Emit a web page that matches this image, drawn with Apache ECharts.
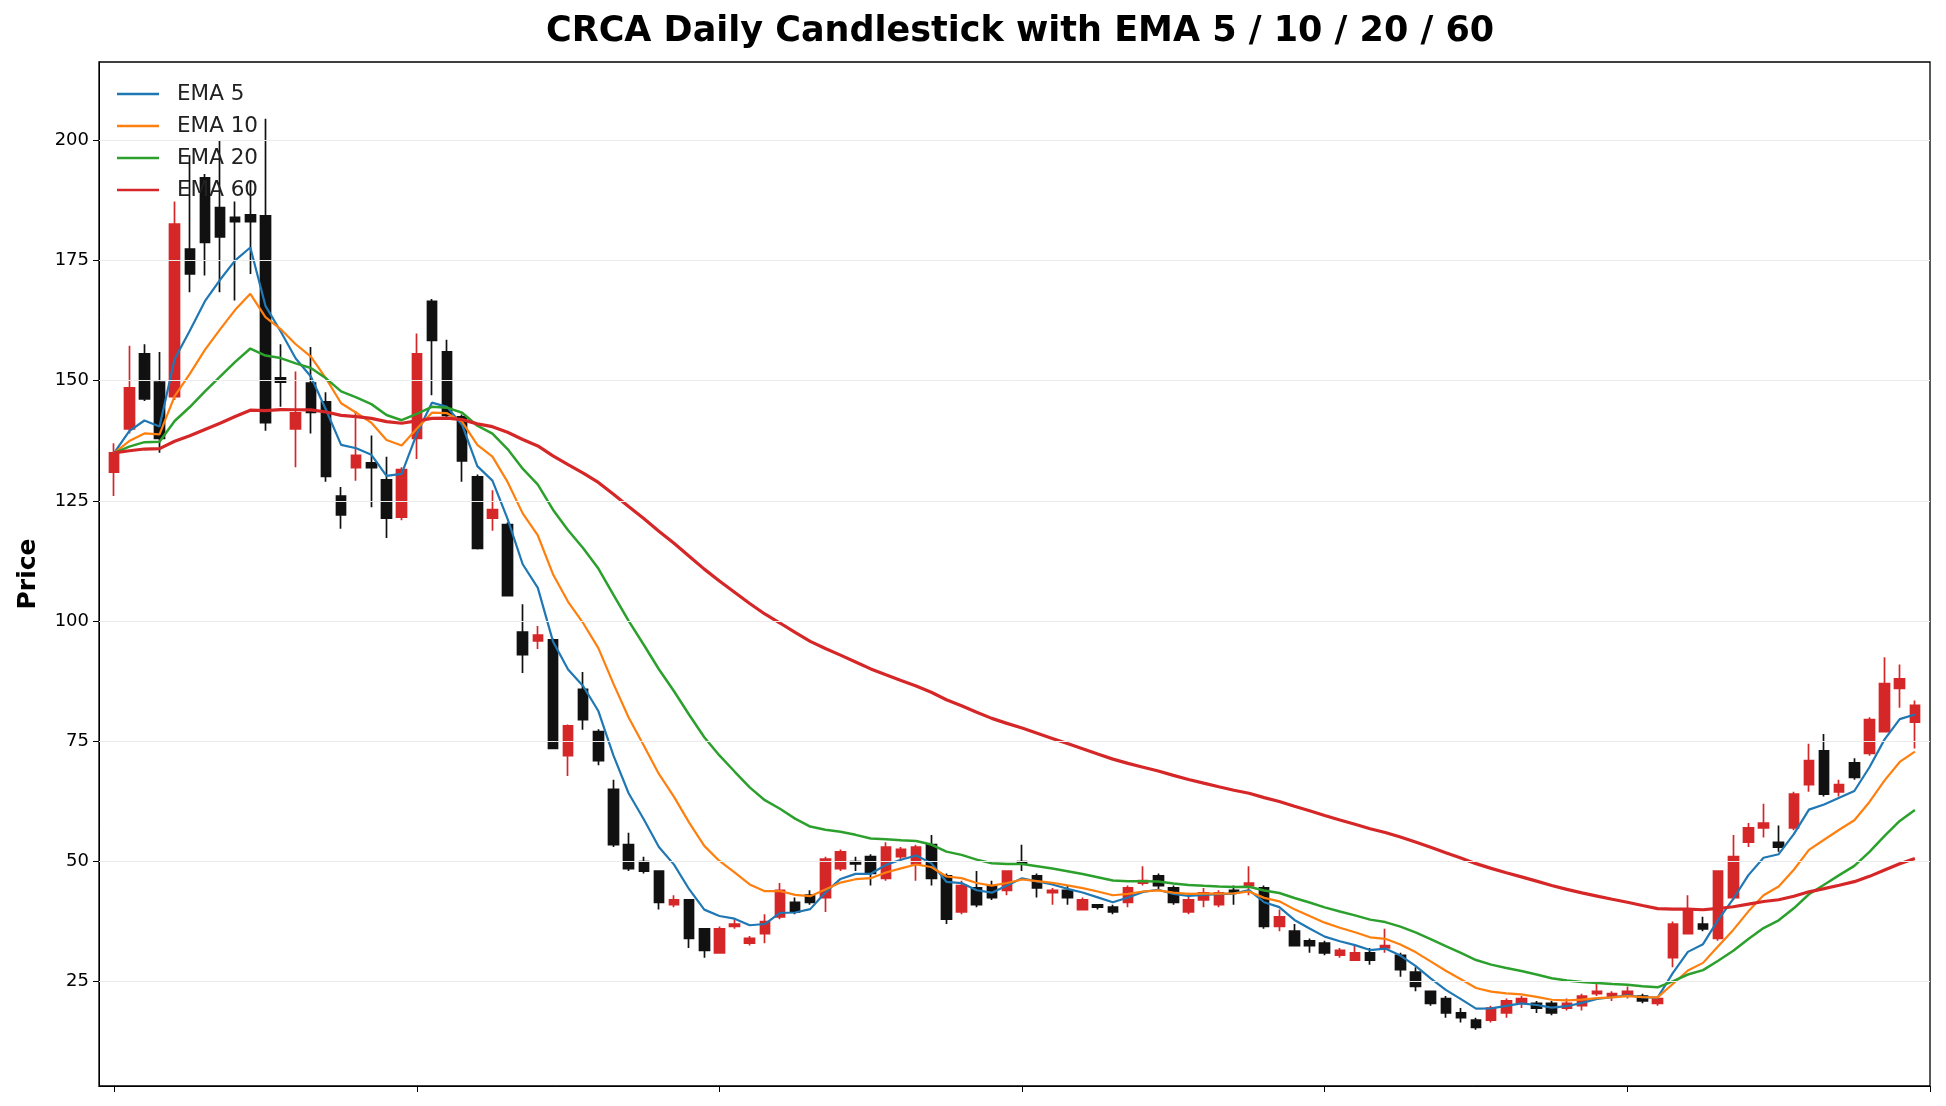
<!DOCTYPE html>
<html><head><meta charset="utf-8">
<script src="https://cdn.jsdelivr.net/npm/echarts@6/dist/echarts.min.js"></script>
<style>html,body{margin:0;padding:0;background:#fff}#c{width:1946px;height:1106px}</style>
</head><body><div id="c"></div>
<script>
// [open, close, low, high] per day
const opens = [131,140,155.6,149.7,146.7,177.4,192.2,186,184,184.5,184.3,150.6,140,149.5,145.6,126,131.9,132.9,129.4,121.6,
138,166.5,156,142.5,130,121.4,120.1,97.7,95.9,96.1,72,85.8,77,65,53.5,50,48,41,42,36,
31,36.5,33,35,38.5,41.5,43,42.5,48.5,50,51,46.5,51,49.5,53.5,47,39.5,44.5,45,44,
50,47,43.5,44,40,41,40.5,41.5,45.5,47,44.5,39.5,42,41,44,45,44.5,36.5,35.5,33.5,
33,30.5,29.5,31,32,30.5,27,23,21.5,18.5,17,17,18.5,20.5,20.5,20.5,19.5,20,22.5,22,
22,22,20.5,30,35,37,34,42.5,54,57,54,57,66,73,64.5,70.5,72.5,77,86,79];
const closes = [135,148.5,146.2,138,182.6,172.2,178.8,179.9,183.1,183.1,141.3,149.7,143.3,143.4,130.1,122.1,134.5,131.9,121.4,131.5,
155.6,158.4,142.8,133.3,115.1,123.2,105.3,93,97.1,73.5,78.2,79.5,71,53.5,48.5,48,41.5,42,34,31.5,
36,37,34,37.5,44,39.5,41.5,50.5,52,49.5,47.5,53,52.5,53,46.5,38,45,41,42.5,48,
49.5,44.5,44,42.5,42,40.5,39.5,44.5,46,45,41.5,42,43.5,43.5,43.5,45.5,36.5,38.5,32.5,32.5,
31,31.5,31,29.5,32.5,27.5,24,20.5,18.5,17.5,15.5,19.5,21,21.5,19.5,18.5,20.5,22,23,22.5,
23,21,21.5,37,40,36,48,51,57,58,53,64,71,64,66,67.5,79.5,87,88,82.5];
const lows = [126,139,145.8,135,146,168.4,171.9,168.4,166.7,172.2,139.6,144.6,132,139,129,119.2,129.2,123.7,117.3,121,
133.7,147,142.4,129,114.9,118.8,105.2,89.2,94.2,73.5,67.8,77.4,70,53,48,47.5,40,40.5,32,30,
31,36,32.5,33,38,39,41,39.5,48,48,45,46,50,46,45,37,39,40.5,42,43,
48,42.5,41,41,40,40,39,40.5,45,44,41,39,40.5,40.5,41,43,36,35.5,32.5,31,
30.5,30,29.5,28.5,31,26,23,20,17.5,16.5,15,16.5,17.5,19.5,18.5,18,19,19,22,21,
21.5,20.5,20,28,35,35.5,33.5,42,53,55,52,56.5,64.5,63.5,63.5,67,72,77,82,73.5];
const highs = [137,157.3,157.6,156,187.3,196.9,193,200,187.3,191.7,204.5,157.6,151.9,157,147.6,127.9,143.7,138.6,134.2,132,
159.8,167,158.5,143,130.5,127.2,120.5,103.5,99,96.5,78.5,89.4,77.5,67,56,51,48,43,42,36,
36.5,38,34.5,39,45.5,42.5,44,51,52.5,51,51.5,54,53,53.5,55.5,47.5,46,48,46,48,
53.5,47.5,44.5,45,42.5,41,41,45,49,47.5,45,43.5,44.5,44,45,49,45,40,37,34,
33.5,32,32.5,32,36,31,28,23,22,19.5,17.5,20,21.5,22,21,21,21.5,22.5,24.5,23,
24,22.5,22,37.5,43,38.5,48,55.5,58,62,57.5,64.5,74.5,76.5,67,71.5,80,92.5,91,83.5];
const xTickEvery = 20;
const yTicks = [25,50,75,100,125,150,175,200];
const emaSpans = [5,10,20,60];

const cats = [''].concat(closes.map((_, i) => String(i))).concat(['']);
const candles = ['-'].concat(closes.map((c, i) => [opens[i], c, lows[i], highs[i]])).concat(['-']);
function ema(span){
  const a = 2/(span+1); const out=[]; let e=closes[0];
  closes.forEach((c,i)=>{ e = i===0 ? c : a*c+(1-a)*e; out.push(+e.toFixed(3)); });
  return ['-'].concat(out).concat(['-']);
}
const colors = ['#1f77b4','#ff7f0e','#2ca02c','#d62728'];
const widths = [2.2,2.2,2.5,3.2];
const series = [{
  type:'candlestick', data:candles, barWidth:10,
  itemStyle:{color:'#d62728',color0:'#111111',borderColor:'#d62728',borderColor0:'#111111',borderWidth:1.7}
}];
emaSpans.forEach((s,k)=>series.push({
  name:'EMA '+s, type:'line', data:ema(s), showSymbol:false, symbol:'none', z:3,
  lineStyle:{color:colors[k], width:widths[k]}, itemStyle:{color:colors[k]}
}));
series.push({type:'line', data:[], z:1, markLine:{silent:true, symbol:'none', label:{show:false},
  lineStyle:{color:'#ebebeb', type:'solid', width:1}, data: yTicks.map(v=>({yAxis:v}))}});

const chart = echarts.init(document.getElementById('c'));
chart.setOption({
  animation:false,
  title:{text:'CRCA Daily Candlestick with EMA 5 / 10 / 20 / 60', left:541, top:9,
    textStyle:{fontFamily:'DejaVu Sans', fontSize:35, fontWeight:'bold', color:'#000'}},
  legend:{data:emaSpans.map(s=>'EMA '+s), orient:'vertical', left:112, top:78, itemGap:10,
    itemWidth:42, itemHeight:21, icon:'path://M0,10 L42,10 L42,12.4 L0,12.4 Z',
    textStyle:{fontFamily:'DejaVu Sans', fontSize:21.5, color:'#222', padding:[0,0,0,13]}},
  grid:{left:99, right:16, top:62, bottom:20, show:true, borderColor:'#000', borderWidth:1.3},
  xAxis:{type:'category', data:cats, boundaryGap:false,
    axisLine:{show:true, lineStyle:{color:'#000'}},
    axisTick:{show:true, interval:(i)=> i>=1 && (i-1)%xTickEvery===0, length:6, lineStyle:{color:'#000'}},
    axisLabel:{show:false}, splitLine:{show:false}},
  yAxis:{type:'value', min:3.3, max:216.3, name:'Price', nameLocation:'middle', nameGap:58,
    nameTextStyle:{fontFamily:'DejaVu Sans', fontSize:25, fontWeight:'bold', color:'#000'},
    axisLine:{show:true, lineStyle:{color:'#000'}},
    axisTick:{show:true, customValues:yTicks, length:6, lineStyle:{color:'#000'}},
    axisLabel:{customValues:yTicks, fontFamily:'DejaVu Sans', fontSize:18, color:'#000', margin:10},
    splitLine:{show:false}},
  series:series
});
</script></body></html>
